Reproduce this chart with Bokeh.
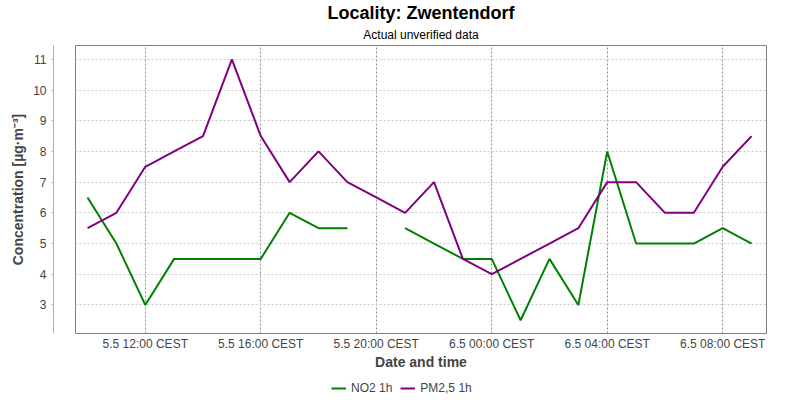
import pandas as pd
import numpy as np
from bokeh.plotting import figure
from bokeh.layouts import column
from bokeh.models import (Range1d, FixedTicker, Legend, LegendItem, Title,
                          ColumnDataSource, LinearAxis)
from bokeh.embed import file_html
from bokeh.resources import INLINE

# ---- data ----
times = pd.date_range("2024-05-05 10:00", periods=24, freq="h")
no2 = [6.5, 5.0, 3.0, 4.5, 4.5, 4.5, 4.5, 6.0, 5.5, 5.5, np.nan, 5.5,
       5.0, 4.5, 4.5, 2.5, 4.5, 3.0, 8.0, 5.0, 5.0, 5.0, 5.5, 5.0]
pm25 = [5.5, 6.0, 7.5, 8.0, 8.5, 11.0, 8.5, 7.0, 8.0, 7.0, 6.5, 6.0,
        7.0, 4.5, 4.0, 4.5, 5.0, 5.5, 7.0, 7.0, 6.0, 6.0, 7.5, 8.5]
tick_times = pd.to_datetime(["2024-05-05 12:00", "2024-05-05 16:00", "2024-05-05 20:00",
                             "2024-05-06 00:00", "2024-05-06 04:00", "2024-05-06 08:00"])
tick_labels = ["5.5 12:00 CEST", "5.5 16:00 CEST", "5.5 20:00 CEST",
               "6.5 00:00 CEST", "6.5 04:00 CEST", "6.5 08:00 CEST"]
y_ticks = [3, 4, 5, 6, 7, 8, 9, 10, 11]
series_names = ["NO2 1h", "PM2,5 1h"]
series_colors = ["#008000", "#800080"]

def to_ms(ts):
    return int((pd.Timestamp(ts) - pd.Timestamp("1970-01-01")) // pd.Timedelta(milliseconds=1))

FONT = "Liberation Sans"

x_start = pd.Timestamp("2024-05-05 09:35")
x_end = pd.Timestamp("2024-05-06 09:31")

p = figure(width=800, height=378, x_axis_type="datetime",
           output_backend="svg", toolbar_location=None,
           x_range=Range1d(x_start, x_end), y_range=Range1d(2.07, 11.45),
           min_border_left=75, min_border_right=34, min_border_top=43,
           min_border_bottom=45)
p.background_fill_color = "white"
p.border_fill_color = "white"
p.outline_line_color = "#808080"
p.outline_line_width = 1

src = ColumnDataSource(dict(t=times, no2=no2, pm25=pm25))
r1 = p.line("t", "no2", source=src, line_color=series_colors[0], line_width=2)
r2 = p.line("t", "pm25", source=src, line_color=series_colors[1], line_width=2)

# titles
sub = Title(text="Actual unverified data", align="center", text_font=FONT,
            text_font_size="12px", text_font_style="normal", text_color="#000000",
            standoff=7, offset=0)
main = Title(text="Locality: Zwentendorf", align="center", text_font=FONT,
             text_font_size="18px", text_font_style="bold", text_color="#000000",
             standoff=0)
p.add_layout(sub, "above")
p.add_layout(main, "above")

# grids
p.ygrid.grid_line_color = "#c8c8c8"
p.ygrid.grid_line_dash = "2 2"
p.xgrid.grid_line_color = "#909090"
p.xgrid.grid_line_dash = "2 2"

# x axis
tick_ms = [to_ms(t) for t in tick_times]
xax = p.xaxis[0]
xax.ticker = FixedTicker(ticks=tick_ms)
xax.major_label_overrides = {m: l for m, l in zip(tick_ms, tick_labels)}
xax.axis_line_color = None
xax.major_tick_line_color = None
xax.minor_tick_line_color = None
xax.major_tick_out = 0
xax.major_tick_in = 0
xax.minor_tick_out = 0
xax.major_label_text_font = FONT
xax.major_label_text_font_size = "12px"
xax.major_label_text_color = "#444444"
xax.major_label_standoff = 3
xax.axis_label = "Date and time"
xax.axis_label_text_font = FONT
xax.axis_label_text_font_size = "14px"
xax.axis_label_text_font_style = "bold"
xax.axis_label_text_color = "#444444"
xax.axis_label_standoff = 0

# y axis (offset from the plot frame, like the reference)
yax = p.yaxis[0]
yax.ticker = FixedTicker(ticks=y_ticks)
yax.axis_line_color = "#b0b0b0"
yax.major_tick_line_color = "#b0b0b0"
yax.minor_tick_line_color = None
yax.major_tick_out = 2
yax.major_tick_in = 0
yax.minor_tick_out = 0
yax.major_label_text_font = FONT
yax.major_label_text_font_size = "12px"
yax.major_label_text_color = "#444444"
yax.major_label_standoff = 5
yax.axis_label = "Concentration [µg·m⁻³]"
yax.axis_label_text_font = FONT
yax.axis_label_text_font_size = "14px"
yax.axis_label_text_font_style = "bold"
yax.axis_label_text_color = "#444444"
yax.axis_label_standoff = 4

gap = LinearAxis(ticker=FixedTicker(ticks=y_ticks),
                 major_label_overrides={t: "" for t in y_ticks},
                 axis_line_color=None, major_tick_line_color=None,
                 minor_tick_line_color=None, major_tick_out=22, major_tick_in=0,
                 minor_tick_out=0, major_label_standoff=0)
p.left = [gap] + list(p.left)

# legend strip
p2 = figure(width=800, height=22, output_backend="svg", toolbar_location=None,
            x_range=Range1d(0, 1), y_range=Range1d(0, 1), min_border=0)
p2.axis.visible = False
p2.grid.visible = False
p2.outline_line_color = None
p2.background_fill_color = "white"
p2.border_fill_color = "white"
l1 = p2.line("t", "no2", source=src, line_color=series_colors[0], line_width=2)
l2 = p2.line("t", "pm25", source=src, line_color=series_colors[1], line_width=2)
legend = Legend(items=[LegendItem(label=series_names[0], renderers=[l1]),
                       LegendItem(label=series_names[1], renderers=[l2])],
                orientation="horizontal", location=(256, 5),
                border_line_color=None, background_fill_alpha=0,
                label_text_font=FONT, label_text_font_size="12px",
                label_text_color="#444444", glyph_width=15, glyph_height=12,
                label_standoff=5, spacing=8, padding=0, margin=0,
                label_height=14)
p2.add_layout(legend, "center")

layout = column(p, p2, spacing=0)
layout.styles = {"position": "absolute", "left": "0px", "top": "0px"}

open("out.html", "w").write(file_html(layout, INLINE))
